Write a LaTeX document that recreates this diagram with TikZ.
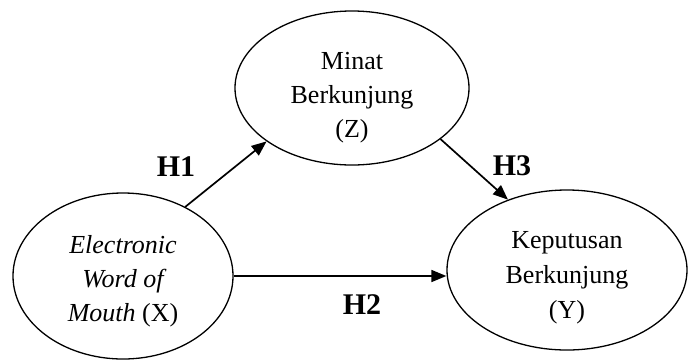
\documentclass[tikz,border=0pt]{standalone}
\usepackage{fontspec}
\setmainfont{Liberation Serif}
\usetikzlibrary{shapes.geometric,arrows.meta}
\begin{document}
\begin{tikzpicture}[x=1pt,y=-1pt,
  var/.style={ellipse,draw,line width=1.3pt,inner sep=0pt},
  lbl/.style={align=center,inner sep=0pt,font=\fontsize{26}{34}\selectfont},
  hyp/.style={font=\fontsize{30}{34}\selectfont\bfseries,inner sep=0pt},
  arr/.style={line width=1.7pt,-{Triangle[length=15pt,width=12pt]}}]
\useasboundingbox (0,0) rectangle (691,360);
\node[var,minimum width=220pt,minimum height=166pt] (X) at (123,276) {};
\node[var,minimum width=234pt,minimum height=154pt] (Z) at (352,88) {};
\node[var,minimum width=240pt,minimum height=160pt] (Y) at (567,270) {};
\node[lbl] (Xt) at (123,281)
  {\itshape Electronic\\ \itshape Word of\\ \itshape Mouth \upshape(X)};
\node[lbl] (Zt) at (352,98) {Minat\\ Berkunjung\\ (Z)};
\node[lbl,font=\fontsize{26}{35}\selectfont] (Yt) at (567,278) {Keputusan\\ Berkunjung\\ (Y)};
\draw[arr] (X.48.9) -- (Z.212.5);
\draw[arr] (Z.330.2) -- (Y.130.5);
\draw[arr] (X.east) -- (X.east -| Y.west);
\node[hyp] (h1) at (176,167) {H1};
\node[hyp] (h2) at (362,305) {H2};
\node[hyp] (h3) at (512,166) {H3};
\end{tikzpicture}
\end{document}
